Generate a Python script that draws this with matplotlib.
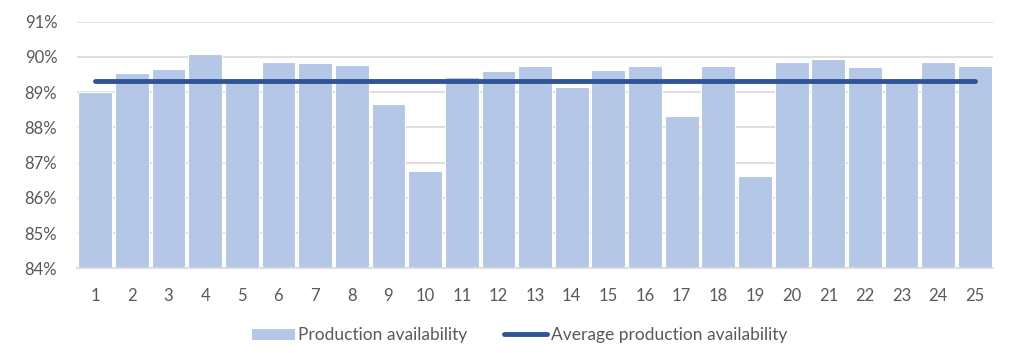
import numpy as np
import matplotlib.pyplot as plt
from matplotlib.ticker import FuncFormatter

days = list(range(1, 26))
availability = [89.0, 89.55, 89.66, 90.09, 89.3, 89.86, 89.82, 89.78, 88.67, 86.76,
                89.44, 89.59, 89.75, 89.16, 89.64, 89.75, 88.33, 89.75, 86.63, 89.86,
                89.95, 89.72, 89.3, 89.85, 89.75]
avg_value = 89.32
average = [avg_value] * len(days)

plt.rcParams['font.family'] = ['Lato', 'DejaVu Sans']

fig = plt.figure(figsize=(10.24, 3.53), dpi=100)
ax = fig.add_axes([0.075, 0.24, 0.895, 0.6985])

bars = ax.bar(days, availability, width=0.92, color='#B4C7E7', edgecolor='white',
              linewidth=0.8, label='Production availability', zorder=2)
line, = ax.plot(days, average, color='#2F5597', linewidth=3.5, solid_capstyle='round',
                label='Average production availability', zorder=3)

ax.set_ylim(84, 91)
ax.set_xlim(0.5, 25.5)
ax.set_yticks(range(84, 92))
ax.yaxis.set_major_formatter(FuncFormatter(lambda v, p: '%d%%' % v))
ax.set_xticks(days)
ax.grid(axis='y', color='#D9D9D9', linewidth=1.2, zorder=0)
for s in ['top', 'right', 'left']:
    ax.spines[s].set_visible(False)
ax.spines['bottom'].set_color('#D9D9D9')
ax.spines['bottom'].set_linewidth(1.2)
ax.tick_params(length=0, labelsize=12, colors='#595959')
ax.tick_params(axis='x', pad=14)
ax.tick_params(axis='y', pad=14)

leg = fig.legend([bars, line], ['Production availability', 'Average production availability'],
                 loc='center', bbox_to_anchor=(0.507, 0.05), ncol=2, frameon=False,
                 fontsize=12.5, handlelength=2.5, handletextpad=0.2, columnspacing=2.1)
for t in leg.get_texts():
    t.set_color('#595959')

fig.savefig('out.png', dpi=100)
